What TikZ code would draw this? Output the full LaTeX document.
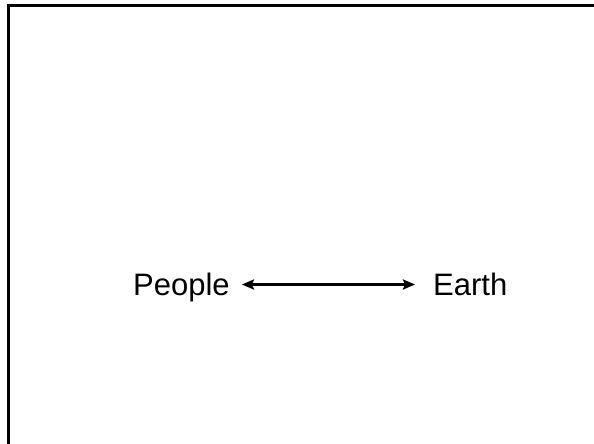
\documentclass[tikz,border=0pt]{standalone}
\usepackage{fontspec}
\setmainfont{Liberation Sans}
\usetikzlibrary{arrows.meta}
\begin{document}
\begin{tikzpicture}[x=1pt,y=-1pt,
  lbl/.style={inner sep=0pt,anchor=base west,font=\fontsize{31}{36}\selectfont},
  conn/.style={line width=2.8pt,{Stealth[length=12pt,width=10pt,inset=2pt]}-{Stealth[length=12pt,width=10pt,inset=2pt]}},
  frame/.style={line width=3pt,line cap=rect}]
\useasboundingbox (0,0) rectangle (594,444);
\draw[frame] (8.5,460) -- (8.5,5.5) -- (610,5.5);
\node[lbl] (people) at (133,295) {People};
\node[lbl] (earth) at (433,295) {Earth};
\draw[conn] ([xshift=12pt,yshift=10.5pt]people.base east) -- ([xshift=-18pt,yshift=10.5pt]earth.base west);
\end{tikzpicture}
\end{document}
